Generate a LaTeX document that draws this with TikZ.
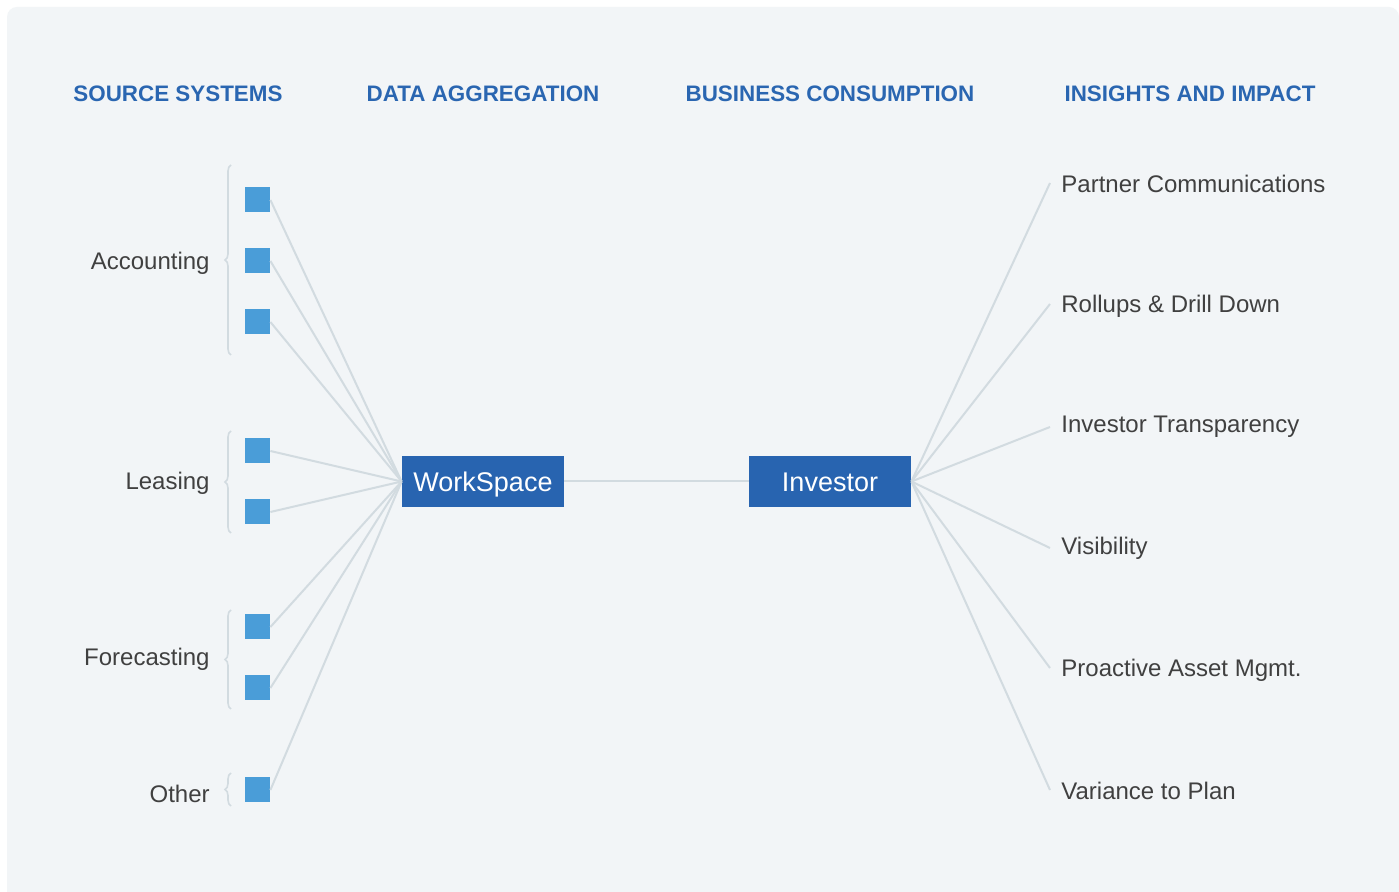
\documentclass[tikz,border=0pt]{standalone}
\usepackage{fontspec}
\setmainfont{Liberation Sans}
\usetikzlibrary{decorations.pathreplacing}
\definecolor{bg}{HTML}{F2F5F7}
\definecolor{headblue}{HTML}{2A66B1}
\definecolor{sqblue}{HTML}{4A9DD8}
\definecolor{boxblue}{HTML}{2864B0}
\definecolor{linegray}{HTML}{D2DBE0}
\definecolor{txtgray}{HTML}{404040}
\begin{document}
\begin{tikzpicture}[x=0.5pt, y=-0.5pt,
    head/.style = {font=\bfseries\fontsize{11.2}{14}\selectfont, text=headblue},
    src/.style = {fill=sqblue, minimum size=12.5pt, inner sep=0pt},
    main/.style = {fill=boxblue, text=white, minimum width=81pt, minimum height=25.5pt, inner sep=0pt, text height=11.3pt, text depth=1.1pt, font=\fontsize{13.5}{16}\selectfont},
    lbl/.style = {text=txtgray, font=\fontsize{12}{14}\selectfont, inner sep=0pt},
    link/.style = {draw=linegray, line width=1pt},
    brc/.style = {draw=linegray, line width=0.8pt, decorate, decoration={brace, amplitude=3pt}}]
		\useasboundingbox (0,0) rectangle (1399,892);
		\fill[white] (0,0) rectangle (1399,892);
		\fill[bg, rounded corners=5pt] (7,7) rectangle (1399,910);
		
		\node[head] (h1) at (178,94) {SOURCE SYSTEMS};
		\node[head] (h2) at (483,94) {DATA AGGREGATION};
		\node[head] (h3) at (830,94) {BUSINESS CONSUMPTION};
		\node[head] (h4) at (1190,94) {INSIGHTS AND IMPACT};
		
		\node[lbl, anchor=east] (acc) at (210,263) {Accounting};
		\node[lbl, anchor=east] (lea) at (210,483) {Leasing};
		\node[lbl, anchor=east] (for) at (210,659) {Forecasting};
		\node[lbl, anchor=east] (oth) at (210,794) {Other};
		
		\draw[brc] (231,355) -- (231,165);
		\draw[brc] (231,533) -- (231,431);
		\draw[brc] (231,709) -- (231,610);
		\draw[brc] (231,806) -- (231,773);
		
		\node[src] (s1) at (257.5,200) {};
		\node[src] (s2) at (257.5,261) {};
		\node[src] (s3) at (257.5,322) {};
		\node[src] (s4) at (257.5,451) {};
		\node[src] (s5) at (257.5,512) {};
		\node[src] (s6) at (257.5,627) {};
		\node[src] (s7) at (257.5,688) {};
		\node[src] (s8) at (257.5,790) {};
		
		\node[main] (ws) at (483,481.5) {WorkSpace};
		\node[main] (inv) at (830,481.5) {Investor};
		
		\coordinate (e1) at (1050,183);
		\coordinate (e2) at (1050,304);
		\coordinate (e3) at (1050,427);
		\coordinate (e4) at (1050,548);
		\coordinate (e5) at (1050,668);
		\coordinate (e6) at (1050,790);
		
		\node[lbl, anchor=west] (i1) at (1061,184) {Partner Communications};
		\node[lbl, anchor=west] (i2) at (1061,306) {Rollups \& Drill Down};
		\node[lbl, anchor=west] (i3) at (1061,427) {Investor Transparency};
		\node[lbl, anchor=west] (i4) at (1061,548) {Visibility};
		\node[lbl, anchor=west] (i5) at (1061,670) {Proactive Asset Mgmt.};
		\node[lbl, anchor=west] (i6) at (1061,791) {Variance to Plan};
		
		\foreach \s in {s1,s2,s3,s4,s5,s6,s7,s8}
			\draw[link] (\s.east) -- (ws.west);
		\draw[link] (ws) -- (inv);
		\foreach \e in {e1,e2,e3,e4,e5,e6}
			\draw[link] (inv.east) -- (\e);
		
	\end{tikzpicture}
\end{document}
